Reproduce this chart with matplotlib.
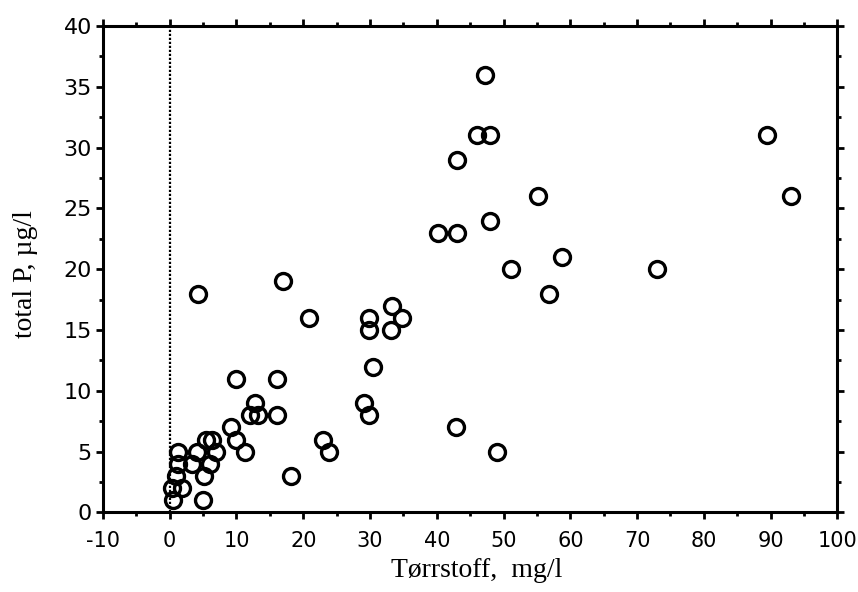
import numpy as np
import matplotlib.pyplot as plt
from matplotlib.ticker import MultipleLocator

plt.rcParams['axes.unicode_minus'] = False

# Tørrstoff (mg/l) og total P (ug/l), lest av figuren
torrstoff = [0.5, 5.0, 0.4, 1.9, 1.0, 5.1, 1.3, 3.3, 6.0, 1.2, 4.1, 6.9, 5.5, 6.4,
             4.3, 16.9, 20.9, 29.8, 29.8, 33.3, 34.8, 33.2, 30.4, 10.0, 16.1,
             12.8, 12.0, 13.2, 16.0, 29.1, 29.9, 9.2, 10.0, 11.2, 23.0, 23.8, 18.1,
             47.2, 46.0, 48.0, 43.0, 55.2, 47.9, 40.2, 43.1, 51.1, 58.7, 73.0,
             56.8, 42.9, 49.0, 89.5, 93.1]
total_p = [1, 1, 2, 2, 3, 3, 4, 4, 4, 5, 5, 5, 6, 6,
           18, 19, 16, 16, 15, 17, 16, 15, 12, 11, 11,
           9, 8, 8, 8, 9, 8, 7, 6, 5, 6, 5, 3,
           36, 31, 31, 29, 26, 24, 23, 23, 20, 21, 20,
           18, 7, 5, 31, 26]

x_ticks = np.arange(-10, 101, 10)
y_ticks = np.arange(0, 41, 5)

fig = plt.figure(figsize=(8.58, 5.92), dpi=100)
ax = fig.add_axes([0.120, 0.1343, 0.856, 0.8217])

# loddrett prikket linje ved x = 0
ax.plot([0, 0], [0, 40], color='black', lw=1.6, ls=(0, (1, 0.8)), zorder=1)

ax.plot(torrstoff, total_p, ls='none', marker='o', ms=11.5, mew=2.4,
        mfc='none', mec='black', zorder=3)

ax.set_xlim(-10, 100)
ax.set_ylim(0, 40)
ax.set_xticks(x_ticks)
ax.set_yticks(y_ticks)
ax.xaxis.set_minor_locator(MultipleLocator(5))
ax.yaxis.set_minor_locator(MultipleLocator(2.5))

for s in ax.spines.values():
    s.set_linewidth(2.2)

ax.tick_params(which='both', direction='out', top=True, right=True,
               width=2.0, color='black')
ax.tick_params(which='major', length=5)
ax.tick_params(which='minor', length=3)
ax.tick_params(axis='x', which='major', pad=8, labelsize=15)
ax.tick_params(axis='y', which='major', pad=3, labelsize=16)
for lab in ax.get_xticklabels() + ax.get_yticklabels():
    lab.set_family('DejaVu Sans')

ax.set_xlabel('Tørrstoff,  mg/l', family='Liberation Serif', fontsize=20)
ax.set_ylabel('total P, µg/l', family='Liberation Serif', fontsize=20)
ax.xaxis.set_label_coords(0.509, -0.094)
ax.yaxis.set_label_coords(-0.088, 0.49)

fig.savefig('out.png', dpi=100)
